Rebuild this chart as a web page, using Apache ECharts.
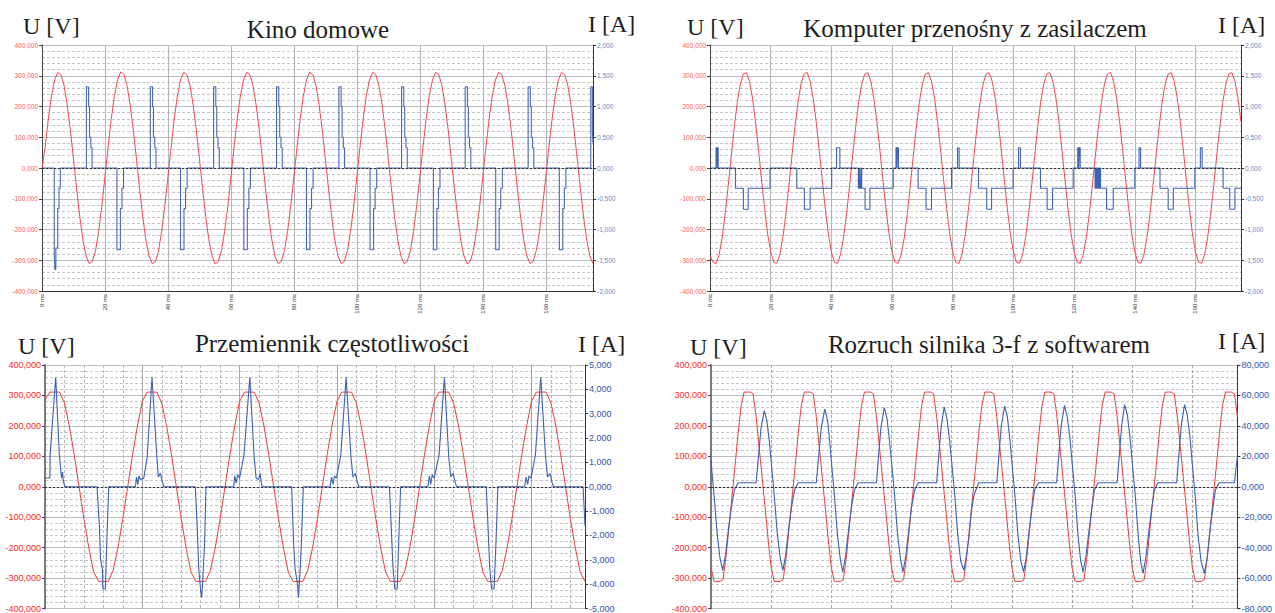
<!DOCTYPE html>
<html>
<head>
<meta charset="utf-8">
<script src="https://cdn.jsdelivr.net/npm/echarts@6/dist/echarts.min.js"></script>
<style>
  html, body { margin: 0; padding: 0; background: #fff; }
  #chart { width: 1275px; height: 613px; }
</style>
</head>
<body>
<div id="chart"></div>
<script>
// --- data ---
var titles = ['Kino domowe', 'Komputer przenośny z zasilaczem', 'Przemiennik częstotliwości', 'Rozruch silnika 3-f z softwarem'];
var uUnit = 'U [V]';
var iUnit = 'I [A]';
var timeMax = [175, 175, 111, 175];            // ms
var uAxis = [-400, 400, 100];                    // V
var iAxes = [[-2, 2, 0.5], [-2, 2, 0.5], [-5, 5, 1], [-80, 80, 20]];   // A

// voltage, one sample per ms
var uKino = [
  0, 68, 159, 234, 286, 311, 304, 269, 206, 124, 29, -68, -159, -234, -286, -311, -304, -269, -206, -124,
  -29, 68, 160, 235, 287, 312, 305, 269, 205, 123, 29, -68, -159, -234, -286, -311, -305, -270, -206, -124,
  -29, 67, 159, 234, 286, 311, 304, 269, 206, 124, 30, -67, -158, -233, -286, -312, -304, -269, -206, -125,
  -30, 68, 159, 234, 286, 311, 304, 268, 206, 124, 29, -68, -159, -234, -287, -311, -304, -269, -206, -124,
  -29, 68, 159, 234, 286, 312, 304, 269, 206, 124, 29, -68, -159, -234, -286, -311, -304, -269, -206, -124,
  -29, 68, 159, 235, 286, 311, 304, 269, 207, 124, 29, -68, -160, -234, -286, -311, -304, -269, -206, -124,
  -29, 68, 159, 234, 286, 311, 305, 269, 206, 124, 29, -68, -159, -234, -286, -312, -304, -269, -206, -124,
  -29, 68, 159, 234, 286, 311, 304, 269, 206, 125, 29, -68, -159, -234, -286, -311, -304, -268, -206, -124,
  -29, 68, 159, 234, 286, 311, 304, 269, 206, 124, 29, -68, -159, -234, -286, -311
];
var uKomp = [
  -285, -306, -311, -282, -227, -150, -58, 39, 133, 214, 273, 306, 310, 282, 227, 150, 58, -39, -133, -214,
  -273, -306, -310, -283, -227, -150, -58, 39, 134, 214, 273, 306, 311, 282, 227, 150, 58, -39, -133, -214,
  -273, -307, -310, -282, -227, -150, -58, 39, 133, 214, 273, 305, 310, 282, 227, 151, 58, -39, -133, -214,
  -273, -306, -310, -282, -228, -150, -58, 39, 133, 214, 273, 306, 310, 282, 227, 150, 58, -39, -133, -214,
  -273, -306, -311, -282, -227, -150, -58, 39, 133, 214, 273, 306, 310, 282, 227, 150, 58, -39, -133, -214,
  -273, -306, -310, -282, -227, -150, -58, 39, 133, 215, 273, 306, 310, 282, 227, 150, 58, -39, -133, -214,
  -273, -306, -310, -282, -227, -150, -58, 39, 133, 214, 273, 306, 311, 282, 227, 150, 58, -39, -133, -214,
  -273, -306, -310, -282, -227, -150, -58, 39, 133, 214, 273, 306, 310, 282, 227, 150, 58, -39, -133, -214,
  -273, -306, -310, -282, -227, -150, -58, 39, 133, 214, 273, 306, 310, 282, 227, 150
];
var uPrzem = [
  286, 311, 311, 311, 275, 200, 105, 0, -105, -200, -280, -311, -311, -311, -275, -200, -105, 0, 105, 200,
  280, 311, 311, 311, 275, 200, 105, 0, -105, -200, -280, -311, -311, -311, -275, -200, -105, 0, 105, 200,
  280, 311, 311, 311, 275, 200, 105, 0, -105, -200, -280, -311, -311, -311, -275, -200, -105, 0, 105, 200,
  280, 311, 311, 311, 275, 200, 105, 0, -105, -200, -280, -311, -311, -311, -275, -200, -105, 0, 105, 200,
  280, 311, 311, 311, 275, 200, 105, 0, -105, -200, -280, -311, -311, -311, -275, -200, -105, 0, 105, 200,
  280, 311, 311, 311, 275, 200, 105, 0, -105, -200, -280, -311
];
var uSilnik = [
  -265, -311, -311, -311, -305, -230, -130, -30, 70, 175, 265, 311, 311, 311, 305, 230, 130, 30, -70, -175,
  -265, -311, -311, -311, -305, -230, -130, -30, 70, 175, 265, 311, 311, 311, 305, 230, 130, 30, -70, -175,
  -265, -311, -311, -311, -305, -230, -130, -30, 70, 175, 265, 311, 311, 311, 305, 230, 130, 30, -70, -175,
  -265, -311, -311, -311, -305, -230, -130, -30, 70, 175, 265, 311, 311, 311, 305, 230, 130, 30, -70, -175,
  -265, -311, -311, -311, -305, -230, -130, -30, 70, 175, 265, 311, 311, 311, 305, 230, 130, 30, -70, -175,
  -265, -311, -311, -311, -305, -230, -130, -30, 70, 175, 265, 311, 311, 311, 305, 230, 130, 30, -70, -175,
  -265, -311, -311, -311, -305, -230, -130, -30, 70, 175, 265, 311, 311, 311, 305, 230, 130, 30, -70, -175,
  -265, -311, -311, -311, -305, -230, -130, -30, 70, 175, 265, 311, 311, 311, 305, 230, 130, 30, -70, -175,
  -265, -311, -311, -311, -305, -230, -130, -30, 70, 175, 265, 311, 311, 311, 305, 230
];

// current, [ms, A]; panels 1 and 2 are sample-and-hold steps
var iKino = [
  [0, 0], [3.9, -1.42], [4.1, -1.65], [4.4, -1.3], [5.0, -0.66], [5.4, -0.33], [5.8, 0],
  [14.1, 1.32], [14.8, 1.0], [15.1, 0.5], [15.5, 0.33], [15.9, 0],
  [23.8, -1.33], [24.9, -0.66], [25.4, -0.33], [25.9, 0],
  [34.4, 1.32], [35.1, 1.0], [35.4, 0.5], [35.8, 0.33], [36.2, 0],
  [44.0, -1.33], [45.1, -0.66], [45.6, -0.33], [46.1, 0],
  [54.5, 1.32], [55.2, 1.0], [55.5, 0.5], [55.9, 0.33], [56.3, 0],
  [64.1, -1.33], [65.2, -0.66], [65.7, -0.33], [66.2, 0],
  [74.5, 1.32], [75.2, 1.0], [75.5, 0.5], [75.9, 0.33], [76.3, 0],
  [84.0, -1.33], [85.1, -0.66], [85.6, -0.33], [86.1, 0],
  [94.3, 1.32], [95.0, 1.0], [95.3, 0.5], [95.7, 0.33], [96.1, 0],
  [104.2, -1.33], [105.3, -0.66], [105.8, -0.33], [106.3, 0],
  [114.2, 1.32], [114.9, 1.0], [115.2, 0.5], [115.6, 0.33], [116.0, 0],
  [124.3, -1.33], [125.4, -0.66], [125.9, -0.33], [126.4, 0],
  [134.4, 1.32], [135.1, 1.0], [135.4, 0.5], [135.8, 0.33], [136.2, 0],
  [144.1, -1.33], [145.2, -0.66], [145.7, -0.33], [146.2, 0],
  [154.4, 1.32], [155.1, 1.0], [155.4, 0.5], [155.8, 0.33], [156.2, 0],
  [164.3, -1.33], [165.4, -0.66], [165.9, -0.33], [166.4, 0],
  [174.3, 1.32], [174.8, 0.6], [175, 0.4]
];
var iKomp = [
  [0, 0], [2.0, 0.33], [2.3, 0], [2.4, 0.33], [2.7, 0], [8.4, -0.33], [11.0, -0.67], [12.6, -0.33], [19.8, 0],
  [28.6, -0.33], [31.1, -0.67], [33.0, -0.33], [40.1, 0],
  [41.7, 0.33], [42.8, 0], [48.9, -0.33], [49.2, 0], [49.4, -0.33], [49.7, 0], [50.0, -0.33], [51.1, -0.67], [52.7, -0.33], [60.4, 0],
  [61.3, 0.33], [61.6, 0], [61.8, 0.33], [62.1, 0], [68.6, -0.33], [71.2, -0.67], [73.0, -0.33], [79.6, 0],
  [81.6, 0.33], [82.1, 0], [88.5, -0.33], [91.2, -0.67], [92.8, -0.33], [99.9, 0],
  [101.7, 0.33], [102.3, 0], [108.9, -0.33], [111.1, -0.67], [112.9, -0.33], [119.7, 0],
  [121.2, 0.33], [121.5, 0], [121.7, 0.33], [122.0, 0], [126.9, -0.33], [127.2, 0], [127.5, -0.33], [127.8, 0],
  [128.1, -0.33], [128.4, 0], [128.7, -0.33], [130.7, -0.67], [132.9, -0.33], [140.0, 0],
  [141.4, 0.33], [141.9, 0], [148.3, -0.33], [151.0, -0.67], [152.7, -0.33], [159.8, 0],
  [161.6, 0.33], [162.2, 0], [169.1, -0.33], [171.3, -0.67], [173.0, -0.33], [175, -0.33]
];
var iPrzem = [
  [0, 0.36], [1.0, 0.36], [1.05, 1.3], [2.2, 4.5], [2.95, 1.3], [3.4, 0.35], [3.6, 0.6], [3.8, 0.2], [4.1, 0],
  [10.7, 0], [11.2, -1.7], [11.4, -2.95], [11.8, -3.4], [11.9, -4.2], [12.4, -4.2], [12.7, -2.3], [13.1, 0],
  [18.6, 0], [18.8, 0.4], [19.1, 0.1], [19.3, 0.45], [19.6, 0.3], [20.3, 0.35], [21.0, 1.2], [22.0, 4.5], [23.0, 1.2],
  [23.3, 0.4], [23.7, 0.55], [24.0, 0.3], [24.4, 0],
  [30.9, 0], [31.3, -1.7], [31.6, -3.36], [32.0, -4.3], [32.2, -4.55], [32.4, -4.0], [32.8, -2.3], [33.1, 0],
  [38.8, 0], [39.0, 0.45], [39.3, 0.15], [39.6, 0.5], [40.0, 0.35], [40.9, 1.3], [42.1, 4.5], [43.0, 1.2],
  [43.4, 0.35], [43.9, 0.3], [44.2, 0.55], [44.5, 0.1], [44.7, 0],
  [50.7, 0], [51.1, -2.3], [51.4, -3.36], [51.9, -4.0], [52.1, -4.55], [52.4, -3.6], [52.7, -2.3], [53.1, 0],
  [58.6, 0], [58.9, 0.4], [59.2, 0.1], [59.5, 0.45], [59.9, 0.35], [60.8, 1.3], [61.9, 4.5], [62.9, 1.2],
  [63.3, 0.4], [63.8, 0.55], [64.2, 0.2], [64.5, 0],
  [70.8, 0], [71.2, -1.8], [71.5, -3.2], [71.9, -4.2], [72.4, -4.2], [72.7, -2.3], [73.1, 0],
  [78.7, 0], [79.0, 0.45], [79.3, 0.1], [79.6, 0.5], [80.0, 0.35], [81.0, 1.3], [82.1, 4.5], [83.0, 1.2],
  [83.4, 0.4], [83.9, 0.55], [84.3, 0.2], [84.6, 0],
  [90.7, 0], [91.1, -1.8], [91.4, -3.3], [91.8, -4.2], [92.3, -4.2], [92.7, -2.3], [93.1, 0],
  [98.6, 0], [98.9, 0.4], [99.2, 0.1], [99.5, 0.45], [99.9, 0.35], [100.8, 1.3], [101.9, 4.5], [102.9, 1.2],
  [103.3, 0.4], [103.8, 0.55], [104.2, 0.2], [104.5, 0],
  [110.6, 0], [111, -1.6]
];
var iSilnik = [
  [0, 18], [0.3, 10], [1.0, -5], [2.0, -30], [3.0, -47], [3.9, -55], [4.8, -45], [5.8, -28], [6.8, -13], [7.8, -2], [9.0, 2.6],
  [15.0, 2.6], [15.7, 18], [16.6, 38], [17.7, 50], [18.6, 43], [19.4, 30],
  [20.3, 10], [21.0, -5], [22.0, -30], [23.0, -47], [23.9, -55], [24.8, -45], [25.8, -28], [26.8, -13], [27.8, -2], [29.0, 2.6],
  [35.0, 2.6], [35.7, 18], [36.6, 38], [37.8, 51], [38.7, 44], [39.4, 31],
  [40.3, 10], [41.0, -5], [42.0, -31], [43.0, -48], [43.8, -56], [44.7, -46], [45.7, -29], [46.7, -13], [47.7, -2], [48.9, 2.6],
  [55.0, 2.6], [55.6, 18], [56.5, 39], [57.6, 52], [58.5, 45], [59.3, 31],
  [60.3, 10], [61.0, -5], [62.0, -31], [63.0, -48], [63.8, -56], [64.7, -46], [65.7, -29], [66.7, -13], [67.7, -2], [68.9, 2.6],
  [75.0, 2.6], [75.6, 18], [76.5, 39], [77.5, 52.5], [78.4, 45], [79.3, 31],
  [80.3, 10], [81.0, -5], [82.0, -31], [83.0, -49], [84.1, -55], [84.9, -45], [85.7, -34], [86.6, -15], [87.4, -5.6], [89.0, 2.6],
  [95.0, 2.6], [95.6, 18], [96.5, 40], [97.6, 53], [98.5, 46], [99.3, 32],
  [100.3, 10], [101.0, -5], [102.0, -31], [103.0, -49], [103.9, -56], [104.8, -46], [105.7, -30], [106.7, -14], [107.6, -2], [108.9, 2.6],
  [114.9, 2.6], [115.5, 18], [116.4, 40], [117.5, 53.5], [118.4, 46], [119.3, 32],
  [120.3, 10], [121.0, -5], [122.0, -32], [122.9, -49], [123.7, -56], [124.6, -46], [125.6, -30], [126.6, -14], [127.5, -2], [128.7, 2.6],
  [135.0, 2.6], [135.6, 18], [136.5, 40], [137.5, 54], [138.4, 47], [139.3, 32],
  [140.3, 10], [141.0, -5], [142.0, -32], [142.8, -49], [143.6, -57], [144.5, -47], [145.5, -30], [146.5, -14], [147.4, -2], [148.6, 2.6],
  [154.8, 2.6], [155.4, 18], [156.3, 40], [157.4, 54], [158.3, 47], [159.2, 33],
  [160.2, 10], [160.9, -5], [161.9, -32], [162.9, -49], [164.0, -57], [164.9, -47], [165.8, -30], [166.8, -14], [167.7, -2], [168.9, 2.6],
  [174.0, 2.6], [174.6, 14], [175, 20]
];

var voltages = [uKino, uKomp, uPrzem, uSilnik];
var currents = [iKino, iKomp, iPrzem, iSilnik];

// --- layout ---
var grids = [
  { left: 42, top: 45, width: 551, height: 246 },
  { left: 710, top: 45, width: 531, height: 246 },
  { left: 45, top: 365, width: 540, height: 245 },
  { left: 711, top: 365, width: 529, height: 245 }
];
var small = [true, true, false, false];
var redLine = ['#f2474f', '#f2474f', '#f03c3c', '#f03c3c'];
var blueLine = ['#4668b6', '#3f63b4', '#3b60b4', '#3b60b4'];
var redText = ['#ff5a5a', '#ff5a5a', '#ff1f1f', '#ff1f1f'];
var blueText = ['#6a88c8', '#6a88c8', '#2f55b0', '#2f55b0'];
var serif = '"Liberation Serif", "Times New Roman", serif';

function fmt3(v) { return v.toFixed(3).replace('.', ','); }
function samples(arr) { return arr.map(function (v, t) { return [t, v]; }); }

var xAxes = [], yAxes = [], series = [];
grids.forEach(function (g, k) {
  var top = small[k];
  var x = {
    type: 'value', gridIndex: k, min: 0, max: timeMax[k], interval: 20,
    axisLine: { show: top, onZero: false, lineStyle: { color: '#333', width: 1 } },
    axisTick: { show: false },
    axisLabel: {
      show: top, rotate: 90, fontSize: 6, color: '#333', margin: 3, showMaxLabel: false,
      fontFamily: 'Arial, "Liberation Sans", sans-serif',
      formatter: function (v) { return v + ' ms'; }
    },
    splitLine: { show: true, lineStyle: { color: '#b4b4b4', width: 1 } }
  };
  if (k === 2) {
    x.interval = 4;
    x.splitLine = { show: true, lineStyle: { color: '#b8b8b8', width: 1, type: [3, 2] } };
  }
  if (k === 3) {
    x.splitLine = { show: true, lineStyle: { color: '#a8a8a8', width: 1, type: [3, 2] } };
  }
  xAxes.push(x);

  yAxes.push({
    type: 'value', gridIndex: k, position: 'left', min: uAxis[0], max: uAxis[1], interval: uAxis[2],
    axisLine: { show: true, onZero: false, lineStyle: { color: top ? '#444' : '#7a7a7a', width: top ? 1 : 2 } },
    axisTick: { show: true, length: 3, lineStyle: { color: '#444' } },
    axisLabel: {
      fontSize: top ? 6.5 : 9, color: redText[k], margin: 4, formatter: fmt3,
      fontFamily: 'Arial, "Liberation Sans", sans-serif'
    },
    splitLine: { show: true, lineStyle: { color: '#bdbdbd', width: 1 } },
    minorTick: { show: false, splitNumber: 5 },
    minorSplitLine: { show: true, lineStyle: { color: '#c6c6c6', width: 1, type: [3, 2] } }
  });
  yAxes.push({
    type: 'value', gridIndex: k, position: 'right', min: iAxes[k][0], max: iAxes[k][1], interval: iAxes[k][2],
    axisLine: { show: true, onZero: false, lineStyle: { color: '#333', width: 1 } },
    axisTick: { show: true, length: 3, lineStyle: { color: '#333' } },
    axisLabel: {
      fontSize: top ? 6.5 : 9, color: blueText[k], margin: 4, formatter: fmt3,
      fontFamily: 'Arial, "Liberation Sans", sans-serif'
    },
    splitLine: { show: false }
  });

  series.push({
    type: 'line', xAxisIndex: k, yAxisIndex: 2 * k, data: samples(voltages[k]),
    symbol: 'none', lineStyle: { color: redLine[k], width: 1 }, z: 2,
    markLine: {
      silent: true, symbol: 'none', label: { show: false },
      lineStyle: { color: '#333', width: 1, type: [2, 2] },
      data: [{ yAxis: 0 }]
    }
  });
  series.push({
    type: 'line', xAxisIndex: k, yAxisIndex: 2 * k + 1, data: currents[k],
    step: top ? 'end' : false,
    symbol: 'none', lineStyle: { color: blueLine[k], width: 1.1 }, z: 3
  });
});

// solid 20 ms lines over the 4 ms dashed ones in panel 3
xAxes.push({
  type: 'value', gridIndex: 2, min: 0, max: timeMax[2], interval: 20, position: 'bottom',
  axisLine: { show: false }, axisTick: { show: false }, axisLabel: { show: false },
  splitLine: { show: true, lineStyle: { color: '#a6a6a6', width: 1 } }
});

function label(x, y, text, size, align) {
  return {
    type: 'text', x: x, y: y, silent: true,
    style: { text: text, fontSize: size, fontFamily: serif, fill: '#1e1e1e', textAlign: align, textVerticalAlign: 'middle' }
  };
}

var chart = echarts.init(document.getElementById('chart'), null, { renderer: 'svg' });
chart.setOption({
  animation: false,
  backgroundColor: '#fff',
  grid: grids,
  xAxis: xAxes,
  yAxis: yAxes,
  series: series,
  graphic: [
    label(23, 26, uUnit, 24, 'left'),
    label(318, 29, titles[0], 25, 'center'),
    label(588, 23.5, iUnit, 24, 'left'),
    label(687, 27, uUnit, 24, 'left'),
    label(975, 28.5, titles[1], 25, 'center'),
    label(1218, 25, iUnit, 24, 'left'),
    label(18, 346, uUnit, 24, 'left'),
    label(332, 343.5, titles[2], 25, 'center'),
    label(578, 344, iUnit, 24, 'left'),
    label(690, 347, uUnit, 24, 'left'),
    label(989, 344.5, titles[3], 25, 'center'),
    label(1218, 341, iUnit, 24, 'left')
  ]
});
window.addEventListener('resize', function () { chart.resize(); });
</script>
</body>
</html>
